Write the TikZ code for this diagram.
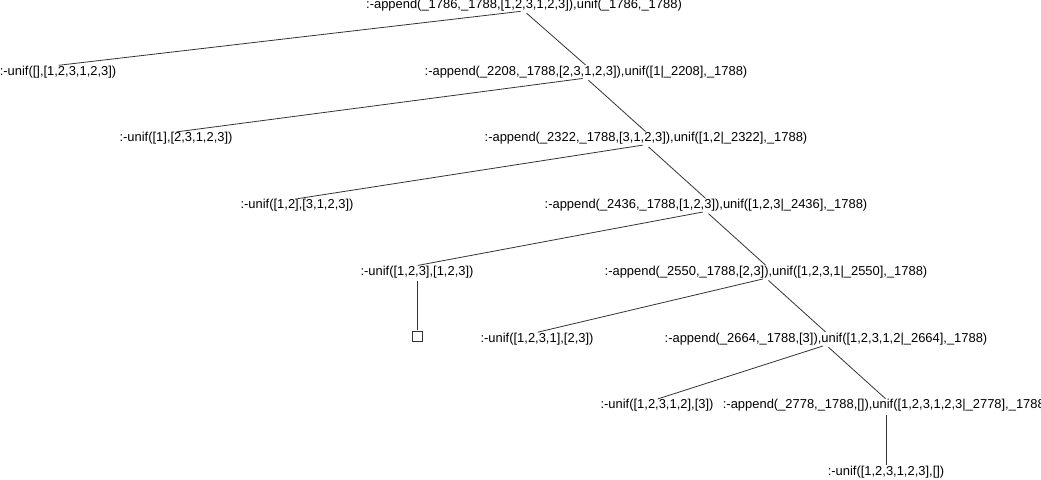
\documentclass[tikz,border=0pt]{standalone}
\usepackage{fontspec}
\setmainfont{Liberation Sans}
\usepackage{xcolor}
\definecolor{branchgrey}{HTML}{333333}
\tikzset{
	goal/.style={anchor=base, inner sep=0pt, font=\fontsize{9.7}{11}\selectfont},
	branch/.style={draw=branchgrey, line width=0.6pt, shorten <=2.5pt, shorten >=0.5pt},
	emptybox/.style={draw=branchgrey, line width=0.6pt, minimum size=7.5pt, inner sep=0pt}
}

\begin{document}
\begin{tikzpicture}[x=0.75pt,y=-0.75pt]
		\useasboundingbox (0,0) rectangle (1041,479);
		%
		\node[goal] (a0) at (524,8) {:-append(\_1786,\_1788,[1,2,3,1,2,3]),unif(\_1786,\_1788)};
		%
		\node[goal] (u1) at (58,75) {:-unif([],[1,2,3,1,2,3])};
		\node[goal] (a1) at (586,75) {:-append(\_2208,\_1788,[2,3,1,2,3]),unif([1|\_2208],\_1788)};
		%
		\node[goal] (u2) at (176,141.6) {:-unif([1],[2,3,1,2,3])};
		\node[goal] (a2) at (646,141.6) {:-append(\_2322,\_1788,[3,1,2,3]),unif([1,2|\_2322],\_1788)};
		%
		\node[goal] (u3) at (297,208.4) {:-unif([1,2],[3,1,2,3])};
		\node[goal] (a3) at (706,208.4) {:-append(\_2436,\_1788,[1,2,3]),unif([1,2,3|\_2436],\_1788)};
		%
		\node[goal] (u4) at (417,275.2) {:-unif([1,2,3],[1,2,3])};
		\node[goal] (a4) at (766,275.2) {:-append(\_2550,\_1788,[2,3]),unif([1,2,3,1|\_2550],\_1788)};
		%
		\node[emptybox] (done) at (417,336) {};
		\node[goal] (u5) at (537,342) {:-unif([1,2,3,1],[2,3])};
		\node[goal] (a5) at (826,342) {:-append(\_2664,\_1788,[3]),unif([1,2,3,1,2|\_2664],\_1788)};
		%
		\node[goal] (u6) at (657,408.8) {:-unif([1,2,3,1,2],[3])};
		\node[goal] (a6) at (886,408.8) {:-append(\_2778,\_1788,[]),unif([1,2,3,1,2,3|\_2778],\_1788)};
		%
		\node[goal] (u7) at (886,475.6) {:-unif([1,2,3,1,2,3],[])};
		%
		\draw[branch] (a0.south) -- (u1.north);
		\draw[branch] (a0.south) -- (a1.north);
		\draw[branch] (a1.south) -- (u2.north);
		\draw[branch] (a1.south) -- (a2.north);
		\draw[branch] (a2.south) -- (u3.north);
		\draw[branch] (a2.south) -- (a3.north);
		\draw[branch] (a3.south) -- (u4.north);
		\draw[branch] (a3.south) -- (a4.north);
		\draw[branch] (u4.south) -- (done.north);
		\draw[branch] (a4.south) -- (u5.north);
		\draw[branch] (a4.south) -- (a5.north);
		\draw[branch] (a5.south) -- (u6.north);
		\draw[branch] (a5.south) -- (a6.north);
		\draw[branch] (a6.south) -- (u7.north);
	\end{tikzpicture}
\end{document}
